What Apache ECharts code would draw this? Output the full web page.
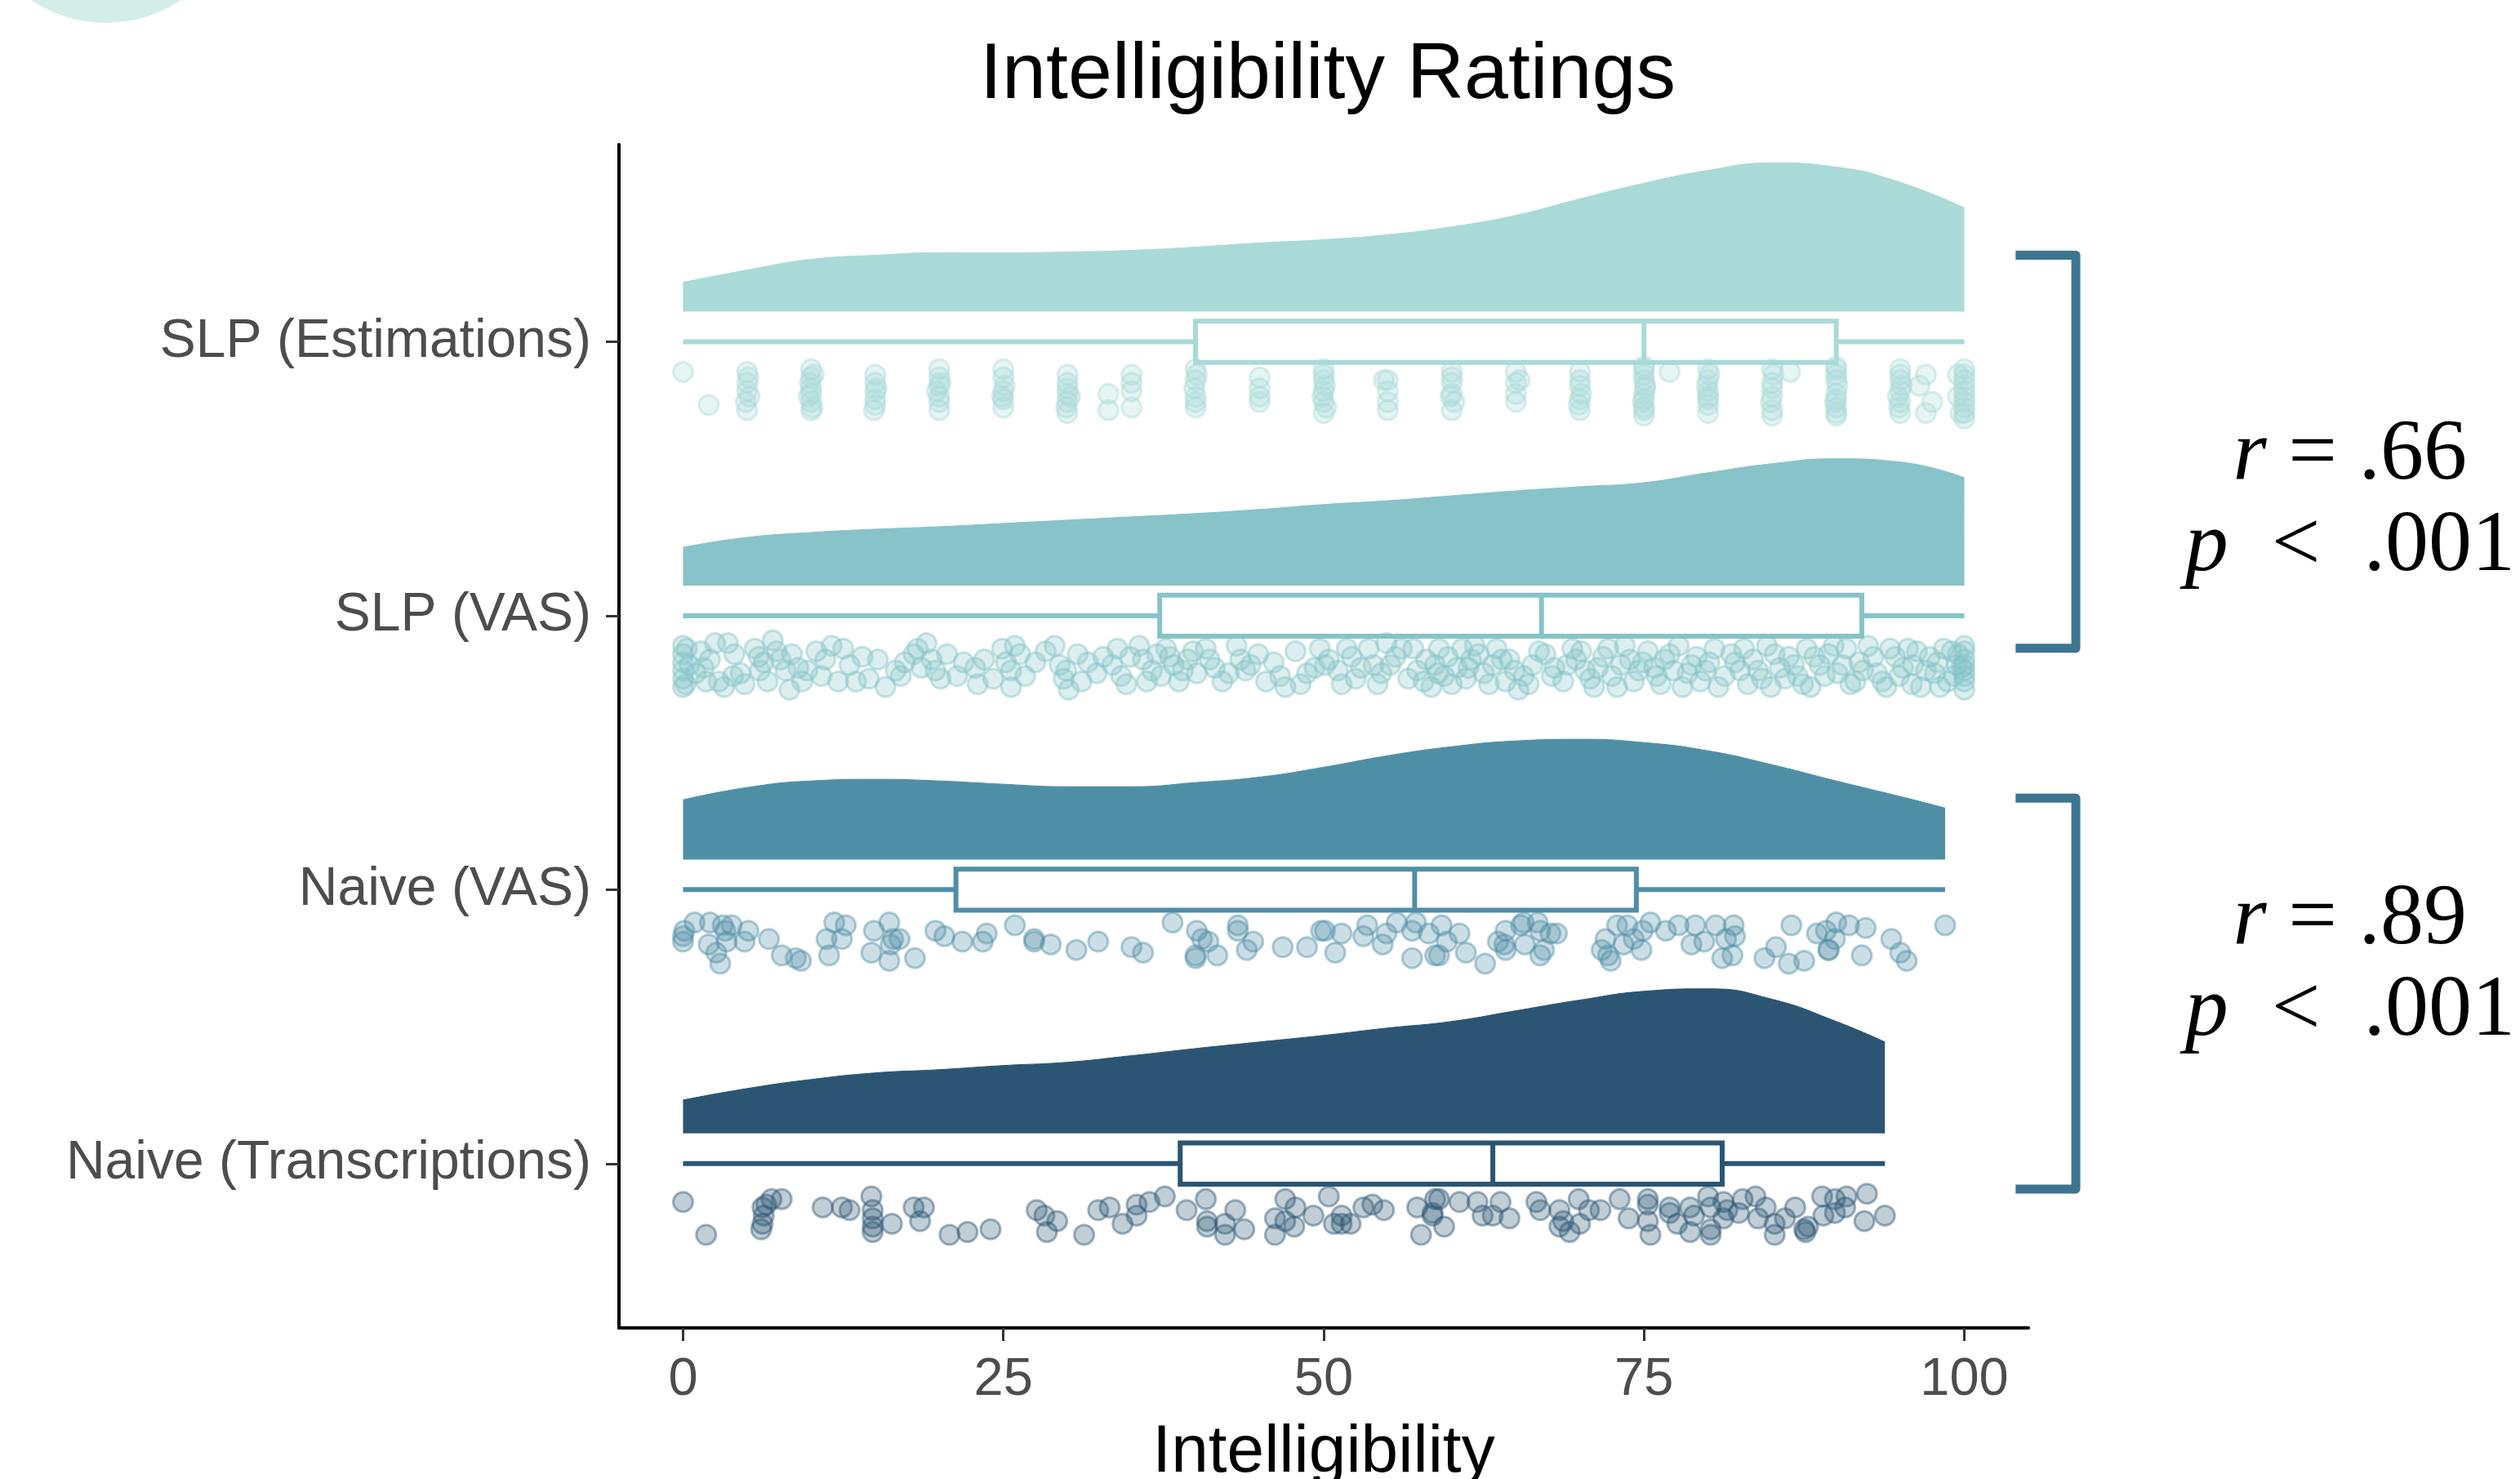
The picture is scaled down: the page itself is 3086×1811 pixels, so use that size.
<!DOCTYPE html>
<html>
<head>
<meta charset="utf-8">
<script src="https://cdn.jsdelivr.net/npm/echarts@6.0.0/dist/echarts.min.js"></script>
<style>
  html, body { margin: 0; padding: 0; background: #fff; }
  #rainCloud { width: 3086px; height: 1811px; }
</style>
</head>
<body>
<div id="rainCloud"></div>
<script>
// categories bottom -> top (y = 1..4)
var categories = ["Naive (Transcriptions)", "Naive (VAS)", "SLP (VAS)", "SLP (Estimations)"];
var groupColors = ["#2b5573", "#4f8fa6", "#87c3c8", "#aadad8"];
var xTicks = [0, 25, 50, 75, 100];

// density outlines (height above the cloud baseline, in category units)
var densX = [0, 5, 10, 15, 20, 25, 30, 35, 40, 45, 50, 55, 60, 65, 70, 75, 80, 85, 90, 95, 100];
var densXNaiveVas = [0, 5, 10, 15, 20, 25, 30, 35, 40, 45, 50, 55, 60, 65, 70, 75, 80, 85, 90, 95, 98.5];
var densXNaiveTr = [0, 5, 10, 15, 20, 25, 30, 35, 40, 45, 50, 55, 60, 65, 70, 75, 80, 85, 90, 93.8];
var densSlpEst = [0.107, 0.152, 0.191, 0.206, 0.215, 0.215, 0.218, 0.224, 0.236, 0.251, 0.263, 0.281, 0.310, 0.352, 0.412, 0.469, 0.516, 0.543, 0.528, 0.472, 0.379];
var densSlpVas = [0.140, 0.176, 0.194, 0.206, 0.215, 0.227, 0.239, 0.251, 0.263, 0.278, 0.296, 0.310, 0.328, 0.346, 0.361, 0.376, 0.412, 0.445, 0.463, 0.451, 0.394];
var densNaiveVas = [0.218, 0.263, 0.287, 0.293, 0.287, 0.275, 0.266, 0.266, 0.281, 0.301, 0.337, 0.379, 0.412, 0.433, 0.439, 0.427, 0.397, 0.346, 0.287, 0.230, 0.188];
var densNaiveTr = [0.122, 0.164, 0.197, 0.221, 0.233, 0.248, 0.260, 0.284, 0.310, 0.334, 0.358, 0.385, 0.409, 0.448, 0.487, 0.519, 0.528, 0.490, 0.409, 0.334];

// box stats: [category, min, q1, median, q3, max]
var boxStats = [
  [4, 0, 40.0, 75.0, 90.0, 100],
  [3, 0, 37.2, 67.0, 92.0, 100],
  [2, 0, 21.3, 57.1, 74.4, 98.5],
  [1, 0, 38.8, 63.2, 81.1, 93.8]
];

// raw ratings: [value, vertical jitter below the category]
var ptsSlpEst = [
  [0,-.11],[2,-.23],[5,-.11],[5,-.15],[5,-.18],[5,-.25],[5.2,-.2],[5.1,-.13],[4.9,-.22],
  [10,-.1],[10,-.13],[10,-.17],[10,-.22],[10,-.25],[9.8,-.2],[10.2,-.12],[9.9,-.15],[10.1,-.24],[10,-.19],
  [15,-.12],[15,-.15],[15,-.18],[15,-.21],[15,-.23],[15.1,-.17],[14.9,-.25],
  [20,-.1],[20,-.13],[20,-.16],[20,-.2],[20,-.25],[19.8,-.18],[20.1,-.15],[20,-.22],
  [25,-.1],[25,-.13],[25,-.18],[25,-.21],[25,-.24],[25.1,-.16],[24.9,-.2],
  [30,-.12],[30,-.15],[30,-.19],[30,-.22],[30,-.26],[30.2,-.2],[30,-.17],[29.9,-.24],
  [33.2,-.19],[33.2,-.25],[35,-.12],[35,-.18],[35,-.24],[35,-.15],
  [40,-.1],[40,-.14],[40,-.2],[40,-.24],[39.9,-.17],[40.1,-.12],[40,-.22],
  [45,-.13],[45,-.17],[45,-.22],[45,-.2],
  [50,-.1],[50,-.14],[50,-.18],[50,-.22],[50,-.26],[50.1,-.16],[49.9,-.2],[50,-.12],[50.2,-.24],
  [55,-.14],[55,-.22],[55,-.25],[54.7,-.14],[55,-.18],
  [60,-.11],[60,-.15],[60,-.19],[60,-.25],[60.2,-.22],[60,-.13],[59.9,-.2],
  [65,-.11],[65,-.15],[65,-.22],[65.3,-.14],[65,-.19],
  [70,-.11],[70,-.16],[70,-.21],[70,-.25],[70.1,-.19],[70,-.14],[69.9,-.23],
  [75,-.09],[75,-.14],[75,-.19],[75,-.24],[75,-.27],[75,-.12],[75,-.21],[75.1,-.17],[75,-.1],[75.1,-.16],[74.9,-.22],[75,-.25],
  [77,-.11],
  [80,-.1],[80,-.14],[80,-.18],[80,-.23],[80,-.26],[80,-.2],[80.1,-.12],[79.9,-.16],[80,-.21],
  [85,-.1],[85,-.15],[85,-.2],[85,-.25],[85,-.17],[86.4,-.11],[85.1,-.12],[84.9,-.22],[85,-.27],
  [90,-.09],[90,-.14],[90,-.19],[90,-.24],[90,-.27],[90,-.12],[90,-.21],[90,-.1],[90.1,-.16],[89.9,-.22],[90,-.26],
  [95,-.1],[95,-.14],[95,-.18],[95,-.22],[95,-.26],[94.8,-.2],[95,-.12],[95.1,-.16],[94.9,-.24],
  [97,-.12],[97.5,-.22],[97,-.26],[96.5,-.16],
  [100,-.1],[100,-.14],[100,-.18],[100,-.22],[100,-.26],[100,-.28],[99.5,-.2],[99.5,-.12],
  [100,-.12],[100,-.16],[100,-.2],[100,-.24],[99.7,-.26]
];
var ptsSlpVas = [
  [0,-.11],[0,-.14],[0,-.17],[0,-.2],[0,-.23],[0,-.26],[0.2,-.25],
  [1.4,-.13],[2.1,-.16],[2.5,-.1],[3.5,-.1],[1.8,-.24],[2.8,-.24],[3.2,-.26],[3.9,-.22],
  [4.5,-.21],[5.6,-.12],[5.9,-.15],[6.3,-.17],[6.6,-.24],[7.0,-.09],[7.3,-.13],[7.6,-.16],[8.0,-.2],[8.3,-.27],[9.0,-.19],[9.7,-.2],
  [10.4,-.13],[11.1,-.16],[12.5,-.12],[12.1,-.24],[13.5,-.24],[14.5,-.23],[15.2,-.16],
  [16.6,-.2],[17.3,-.17],[18.0,-.14],[18.3,-.12],[19.0,-.1],[19.4,-.16],[19.7,-.2],[20.1,-.23],[21.4,-.22],
  [22.8,-.19],[23.5,-.16],[24.2,-.23],[24.9,-.12],[25.2,-.17],[25.6,-.2],[25.9,-.11],[26.3,-.14],[25.6,-.26],
  [29.0,-.11],[29.4,-.18],[29.7,-.23],[30.1,-.27],[30.8,-.14],[31.1,-.24],[32.8,-.15],[33.5,-.18],[33.9,-.12],[34.2,-.22],[34.6,-.25],
  [35.6,-.11],[35.9,-.16],[36.6,-.2],[37.0,-.14],[37.3,-.22],[37.7,-.12],[38.3,-.18],[38.7,-.24],[39.4,-.16],[40.1,-.21],[40.8,-.12],[41.5,-.19],[42.1,-.24],[43.2,-.11],[43.5,-.16],[43.9,-.2],[44.9,-.14],
  [46.6,-.22],[47.0,-.26],[48.7,-.21],[49.7,-.12],[50.1,-.18],[50.4,-.16],[51.1,-.2],[51.8,-.12],[52.2,-.15],[52.5,-.23],[53.5,-.12],[53.9,-.18],[54.2,-.25],[54.9,-.1],[55.6,-.15],
  [56.6,-.23],[57.0,-.12],[57.3,-.2],[58.0,-.16],[58.4,-.26],[58.7,-.18],[59.0,-.12],[59.4,-.22],[59.7,-.15],[60.4,-.19],[60.8,-.12],[61.1,-.23],[61.5,-.16],[61.8,-.11],[62.5,-.21],[63.2,-.18],[63.9,-.16],[64.2,-.24],[64.9,-.2],[65.2,-.27],[65.6,-.22],[66.3,-.18],
  [67.3,-.14],[68.0,-.19],[68.7,-.24],[69.4,-.12],[69.7,-.16],[70.4,-.2],[71.1,-.26],[71.8,-.15],[72.5,-.22],[73.2,-.18],[73.5,-.11],[73.9,-.16],[74.2,-.24],[74.6,-.2],[75.3,-.13],[76.0,-.22],[76.6,-.16],[77.3,-.2],[77.7,-.11],[78.0,-.26],[78.7,-.18],
  [79.4,-.24],[80.1,-.17],[80.8,-.26],[81.8,-.14],[82.5,-.2],[82.8,-.12],[83.5,-.16],[84.2,-.23],[84.6,-.11],[84.9,-.26],[85.6,-.19],[86.3,-.15],[87.0,-.22],[87.7,-.12],[88.0,-.26],[88.7,-.18],[89.4,-.14],[90.1,-.21],[90.8,-.12],[91.5,-.24],[91.8,-.17],[92.5,-.11],[93.2,-.21],[93.9,-.26],[94.6,-.15],[94.9,-.22],[95.6,-.12],[96.0,-.18],[96.6,-.26],[97.3,-.15],[97.7,-.21],[98.4,-.12],[98.7,-.24],[99.4,-.18],
  [100,-.11],[100,-.16],[100,-.2],[100,-.24],[100,-.27],[99.5,-.14],
  [0.5,-.18],[0.3,-.12],[1.0,-.21],[1.6,-.19],[4.0,-.14],[4.8,-.25],[6.0,-.2],[8.5,-.14],[9.3,-.24],[10.8,-.22],[11.6,-.11],[13.0,-.18],
  [14.0,-.15],[15.8,-.26],[17.0,-.22],[18.6,-.19],[20.6,-.14],[21.9,-.17],[23.0,-.25],[26.7,-.22],[27.5,-.17],[28.3,-.13],[29.9,-.2],
  [31.6,-.17],[32.3,-.21],[34.9,-.15],[36.2,-.24],[38.0,-.15],[39.0,-.2],[39.8,-.13],[41.1,-.16],[42.6,-.21],[44.3,-.18],[45.5,-.24],
  [46.1,-.17],[47.8,-.13],[48.2,-.25],[49.3,-.19],[51.4,-.25],[52.9,-.19],[54.5,-.21],[55.2,-.18],[56.1,-.12],[57.8,-.24],[58.9,-.21],
  [60.0,-.25],[61.3,-.19],[62.1,-.14],[62.9,-.25],[63.5,-.12],[64.5,-.16],[66.0,-.25],[66.8,-.13],[67.8,-.22],[69.0,-.18],[70.1,-.13],
  [70.8,-.23],[71.4,-.19],[72.2,-.12],[72.9,-.26],[74.9,-.17],[75.8,-.19],[76.3,-.25],[77.0,-.14],[78.4,-.21],[79.1,-.15],[79.8,-.2],
  [80.5,-.12],[81.3,-.22],[82.1,-.17],[83.1,-.25],[83.9,-.2],[85.2,-.14],[86.0,-.23],[86.7,-.18],[87.4,-.25],[88.3,-.15],[89.1,-.22],
  [89.8,-.11],[90.5,-.18],[91.1,-.25],[92.1,-.2],[92.9,-.15],[93.6,-.24],[94.2,-.12],[95.2,-.19],[95.9,-.25],[96.3,-.13],[97.0,-.2],
  [97.9,-.17],[98.1,-.26],[99.0,-.13],[99.2,-.22],[99.8,-.19],[100,-.13],[100,-.22],[100,-.18]
];
var ptsNaiveVas = [
  [0,-.17],[0,-.19],[0.1,-.15],[0.9,-.12],[2.1,-.12],[2.0,-.2],[2.6,-.23],[2.9,-.27],[3.1,-.13],[3.3,-.15],[3.8,-.13],[3.4,-.19],[4.8,-.19],[5.1,-.15],
  [6.7,-.18],[7.7,-.24],[8.8,-.25],[9.2,-.26],[11.4,-.24],[11.2,-.18],[11.8,-.12],[12.7,-.13],[12.4,-.18],[14.9,-.15],[14.7,-.23],
  [16.1,-.12],[16.4,-.18],[16.2,-.2],[16.1,-.26],[16.9,-.18],[18.1,-.25],[19.7,-.15],[20.4,-.17],[21.8,-.19],[23.4,-.19],[23.7,-.16],
  [25.9,-.13],[27.4,-.18],[27.4,-.19],[28.7,-.2],[30.7,-.22],[32.4,-.19],[35.0,-.21],[35.9,-.23],[38.2,-.12],[40.1,-.15],[40.5,-.18],[41.0,-.19],
  [40.0,-.24],[40.0,-.25],[41.7,-.24],[43.3,-.13],[43.3,-.15],[44.5,-.19],[44.0,-.22],[46.8,-.21],[48.7,-.21],[49.8,-.15],
  [50.1,-.15],[50.9,-.23],[51.4,-.16],[53.1,-.17],[53.4,-.13],[54.6,-.2],[54.9,-.16],[55.7,-.12],[56.9,-.25],[56.9,-.15],[57.2,-.12],
  [58.2,-.16],[58.7,-.24],[59.0,-.24],[59.2,-.13],[59.6,-.19],[60.6,-.16],[61.1,-.23],[62.6,-.27],[63.6,-.19],[64.2,-.15],[64.1,-.2],[64.2,-.22],
  [65.4,-.13],[65.6,-.12],[65.7,-.2],[66.7,-.12],[66.9,-.15],[66.9,-.24],[67.2,-.22],[67.7,-.16],[68.2,-.16],
  [71.7,-.22],[72.0,-.18],[72.2,-.24],[72.4,-.26],[72.9,-.13],[73.7,-.13],[73.4,-.2],[74.2,-.18],[74.8,-.22],[74.9,-.15],[75.5,-.12],
  [76.7,-.15],[77.7,-.13],[78.7,-.2],[79.0,-.13],[79.7,-.19],[80.6,-.13],[81.1,-.25],[81.4,-.18],[81.9,-.24],[82.0,-.13],[82.1,-.17],
  [84.4,-.25],[85.3,-.21],[86.3,-.27],[86.5,-.13],[87.5,-.26],[88.5,-.16],[89.2,-.15],[89.4,-.22],[89.4,-.22],[89.9,-.18],[90.0,-.12],
  [91.0,-.13],[92.3,-.14],[92.0,-.24],[94.3,-.18],[95.0,-.23],[95.5,-.26],[98.5,-.13]
];
var ptsNaiveTr = [
  [0,-.14],[1.8,-.26],[6.2,-.16],[6.3,-.19],[6.2,-.22],[6.1,-.24],[6.9,-.13],[7.7,-.13],[6.5,-.15],
  [10.9,-.16],[12.4,-.16],[13.0,-.17],[14.7,-.12],[14.8,-.17],[14.8,-.2],[14.8,-.25],[14.8,-.23],[16.3,-.22],[18.0,-.16],[18.8,-.16],[18.5,-.21],
  [20.8,-.26],[22.2,-.25],[24.0,-.24],[27.6,-.17],[28.2,-.19],[29.2,-.21],[28.4,-.25],[31.3,-.26],[32.4,-.17],[33.3,-.16],[34.3,-.22],
  [35.4,-.15],[35.4,-.19],[36.4,-.14],[37.6,-.12],[39.3,-.17],[40.8,-.13],[40.9,-.21],[40.9,-.23],[42.3,-.22],[42.3,-.26],[43.1,-.17],[43.8,-.24],
  [46.2,-.2],[46.2,-.26],[47.0,-.13],[47.8,-.16],[47.0,-.21],[47.7,-.23],[49.2,-.19],
  [50.4,-.12],[50.8,-.22],[51.4,-.19],[51.4,-.22],[52.1,-.22],[53.1,-.16],[53.8,-.15],[54.7,-.17],[57.3,-.16],[57.6,-.26],[58.5,-.18],
  [58.7,-.13],[59.0,-.13],[59.4,-.23],[58.5,-.19],[60.6,-.14],[62.0,-.14],[62.4,-.19],[63.2,-.19],[63.8,-.14],[64.5,-.2],
  [66.6,-.14],[66.9,-.17],[68.4,-.17],[68.4,-.23],[68.7,-.21],[69.2,-.25],[69.9,-.13],[70.0,-.22],[70.7,-.17],[71.6,-.17],
  [73.1,-.13],[73.8,-.2],[75.3,-.13],[75.3,-.15],[75.3,-.21],[75.5,-.26],[77.0,-.16],[77.0,-.18],[77.6,-.22],[78.6,-.16],[78.6,-.25],[78.9,-.19],
  [80.0,-.12],[80.2,-.16],[80.2,-.24],[80.2,-.26],[81.2,-.14],[81.2,-.2],[81.5,-.17],[82.4,-.18],[82.7,-.13],[83.7,-.12],[83.9,-.2],[84.5,-.16],
  [85.2,-.22],[85.2,-.26],[86.0,-.2],[86.8,-.16],[87.5,-.24],[87.6,-.25],[87.8,-.23],[89.0,-.19],[88.9,-.12],[89.9,-.13],[89.9,-.18],
  [90.7,-.16],[90.8,-.12],[92.4,-.11],[92.2,-.21],[93.8,-.19]
];

// correlation annotations: [top, bottom] of each bracket in category units
var bracketSpans = [[4.316, 2.881], [2.334, 0.907]];
var bracketX = [104.0, 108.7];
var annoY = [3.418, 1.719];
var annoX = 130.1;
var annoR = [".66", ".89"];
var annoP = [".001", ".001"];

var fontSans = "'Liberation Sans', Arial, sans-serif";
var fontSerif = "'Liberation Serif', 'DejaVu Serif', serif";
var cloudBase = 0.11;   // gap between box centre and cloud baseline
var boxHalf = 0.075;

function rgba(hex, a) {
  var n = parseInt(hex.slice(1), 16);
  return "rgba(" + (n >> 16) + "," + ((n >> 8) & 255) + "," + (n & 255) + "," + a + ")";
}

var groups = [
  { cat: 1, xs: densXNaiveTr, dens: densNaiveTr, pts: ptsNaiveTr },
  { cat: 2, xs: densXNaiveVas, dens: densNaiveVas, pts: ptsNaiveVas },
  { cat: 3, xs: densX, dens: densSlpVas, pts: ptsSlpVas },
  { cat: 4, xs: densX, dens: densSlpEst, pts: ptsSlpEst }
];

var series = [];
groups.forEach(function (g) {
  var color = groupColors[g.cat - 1];
  var base = g.cat + cloudBase;
  series.push({
    type: "line",
    name: categories[g.cat - 1] + " cloud",
    data: g.xs.map(function (x, i) { return [x, base + g.dens[i]]; }),
    smooth: 0.5,
    symbol: "none",
    silent: true,
    lineStyle: { color: color, width: 1 },
    areaStyle: { color: color, opacity: 1, origin: base },
    z: 2
  });
  series.push({
    type: "scatter",
    name: categories[g.cat - 1] + " points",
    data: g.pts.map(function (p) { return [p[0], g.cat + p[1]]; }),
    symbolSize: 24,
    itemStyle: { color: rgba(color, 0.36), borderColor: rgba(color, 0.55), borderWidth: 3 },
    z: 4
  });
});

series.push({
  type: "custom",
  name: "boxes",
  data: boxStats,
  encode: { x: [1, 2, 3, 4, 5], y: 0 },
  renderItem: function (params, api) {
    var cat = api.value(0);
    var color = groupColors[cat - 1];
    var pMin = api.coord([api.value(1), cat]);
    var pMax = api.coord([api.value(5), cat]);
    var tl = api.coord([api.value(2), cat + boxHalf]);
    var br = api.coord([api.value(4), cat - boxHalf]);
    var mTop = api.coord([api.value(3), cat + boxHalf]);
    var mBot = api.coord([api.value(3), cat - boxHalf]);
    return {
      type: "group",
      children: [
        { type: "line", shape: { x1: pMin[0], y1: pMin[1], x2: pMax[0], y2: pMax[1] },
          style: { stroke: color, lineWidth: 6 } },
        { type: "rect", shape: { x: tl[0], y: tl[1], width: br[0] - tl[0], height: br[1] - tl[1] },
          style: { fill: "#fff", stroke: color, lineWidth: 6 } },
        { type: "line", shape: { x1: mTop[0], y1: mTop[1], x2: mBot[0], y2: mBot[1] },
          style: { stroke: color, lineWidth: 6 } }
      ]
    };
  },
  z: 3
});

series.push({
  type: "custom",
  name: "brackets",
  data: bracketSpans,
  clip: false,
  silent: true,
  renderItem: function (params, api) {
    var a = api.coord([bracketX[0], api.value(0)]);
    var b = api.coord([bracketX[1], api.value(0)]);
    var c = api.coord([bracketX[1], api.value(1)]);
    var d = api.coord([bracketX[0], api.value(1)]);
    return {
      type: "polyline",
      shape: { points: [a, b, c, d] },
      style: { stroke: "#3d7591", lineWidth: 11, fill: null, lineJoin: "round" }
    };
  },
  z: 5
});

series.push({
  type: "custom",
  name: "stats",
  data: annoY.map(function (y, i) { return [annoX, y, i]; }),
  clip: false,
  silent: true,
  renderItem: function (params, api) {
    var i = api.value(2);
    var p = api.coord([api.value(0), api.value(1)]);
    return {
      type: "text",
      x: p[0],
      y: p[1],
      style: {
        text: "{i|r} = " + annoR[i] + "\n{i|p}  <  " + annoP[i],
        fill: "#000",
        fontFamily: fontSerif,
        fontSize: 106,
        lineHeight: 112,
        align: "center",
        verticalAlign: "middle",
        rich: { i: { fontStyle: "italic", fontFamily: fontSerif, fontSize: 106, lineHeight: 112 } }
      }
    };
  },
  z: 5
});

var myChart = echarts.init(document.getElementById("rainCloud"));
var option = {
  backgroundColor: "#fff",
  animation: false,
  title: {
    text: "Intelligibility Ratings",
    left: 1621,
    textAlign: "center",
    top: 40,
    textStyle: { fontFamily: fontSans, fontSize: 97, fontWeight: "normal", color: "#000" }
  },
  graphic: [
    { type: "circle", shape: { cx: 130, cy: -137, r: 165 }, style: { fill: "#d4ede9" }, silent: true }
  ],
  grid: { left: 758, right: 602, top: 177, bottom: 185, containLabel: false, outerBoundsMode: "none" },
  xAxis: {
    type: "value",
    min: -5,
    max: 105,
    name: "Intelligibility",
    nameLocation: "middle",
    nameGap: 112,
    nameTextStyle: { fontFamily: fontSans, fontSize: 82, color: "#000" },
    axisLine: { show: true, onZero: false, lineStyle: { color: "#000", width: 4 } },
    axisTick: { show: true, length: 16, customValues: xTicks, lineStyle: { color: "#333", width: 3 } },
    axisLabel: { customValues: xTicks, color: "#4d4d4d", fontFamily: fontSans, fontSize: 65, margin: 32 },
    splitLine: { show: false }
  },
  yAxis: {
    type: "value",
    min: 0.4,
    max: 4.72,
    axisLine: { show: true, onZero: false, lineStyle: { color: "#000", width: 4 } },
    axisTick: { show: true, length: 16, customValues: [1, 2, 3, 4], lineStyle: { color: "#333", width: 3 } },
    axisLabel: {
      customValues: [1, 2, 3, 4],
      color: "#4d4d4d",
      fontFamily: fontSans,
      fontSize: 66,
      margin: 34,
      formatter: function (v) { return categories[Math.round(v) - 1]; }
    },
    splitLine: { show: false }
  },
  series: series
};
myChart.setOption(option, true);
</script>
</body>
</html>
